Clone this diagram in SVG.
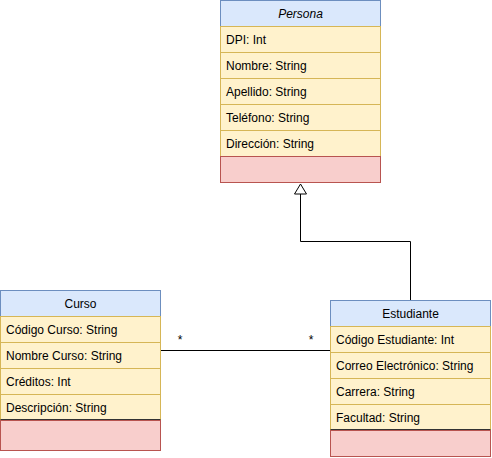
<svg xmlns="http://www.w3.org/2000/svg" width="492" height="458" viewBox="0 0 492 458">
<style>
text{font-family:"Liberation Sans",Arial,sans-serif;font-size:12px;fill:#000}
.h{fill:#dae8fc;stroke:#6c8ebf}
.f{fill:#fff2cc;stroke:#d6b656}
.m{fill:#f8cecc;stroke:#b85450}
.t{text-anchor:middle}
.c{fill:none;stroke:#000;stroke-width:1}
.s{stroke:#333;stroke-width:1}
</style>
<rect width="492" height="458" fill="#fff"/>
<g id="connectors">
<path class="c" d="M410.5 300.5 V241.5 H300.5 V194"/>
<path d="M300.5 184 L294.5 194 L306.5 194 Z" fill="#fff" stroke="#000"/>
<path class="c" d="M160.5 350.5 H330.5"/>
<text x="180" y="344" class="t">*</text>
<text x="311" y="344" class="t">*</text>
</g>
<g id="persona">
<rect class="h" x="220.5" y="0.5" width="160" height="26"/>
<text x="300.5" y="18" class="t" font-style="italic">Persona</text>
<rect class="f" x="220.5" y="26.5" width="160" height="26"/>
<text x="226" y="44">DPI: Int</text>
<rect class="f" x="220.5" y="52.5" width="160" height="26"/>
<text x="226" y="70">Nombre: String</text>
<rect class="f" x="220.5" y="78.5" width="160" height="26"/>
<text x="226" y="96">Apellido: String</text>
<rect class="f" x="220.5" y="104.5" width="160" height="26"/>
<text x="226" y="122">Teléfono: String</text>
<rect class="f" x="220.5" y="130.5" width="160" height="26"/>
<text x="226" y="148">Dirección: String</text>
<rect class="m" x="220.5" y="156.5" width="160" height="26"/>
</g>
<g id="curso">
<rect class="h" x="0.5" y="290.5" width="160" height="26"/>
<text x="80.5" y="308" class="t">Curso</text>
<rect class="f" x="0.5" y="316.5" width="160" height="26"/>
<text x="6" y="334">Código Curso: String</text>
<rect class="f" x="0.5" y="342.5" width="160" height="26"/>
<text x="6" y="360">Nombre Curso: String</text>
<rect class="f" x="0.5" y="368.5" width="160" height="26"/>
<text x="6" y="386">Créditos: Int</text>
<rect class="f" x="0.5" y="394.5" width="160" height="26"/>
<text x="6" y="412">Descripción: String</text>
<rect class="m" x="0.5" y="420.5" width="160" height="30"/>
<line class="s" x1="0.5" y1="419.5" x2="160.5" y2="419.5"/>
</g>
<g id="estudiante">
<rect class="h" x="330.5" y="300.5" width="160" height="26"/>
<text x="410.5" y="318" class="t">Estudiante</text>
<rect class="f" x="330.5" y="326.5" width="160" height="26"/>
<text x="336" y="344">Código Estudiante: Int</text>
<rect class="f" x="330.5" y="352.5" width="160" height="26"/>
<text x="336" y="370">Correo Electrónico: String</text>
<rect class="f" x="330.5" y="378.5" width="160" height="26"/>
<text x="336" y="396">Carrera: String</text>
<rect class="f" x="330.5" y="404.5" width="160" height="26"/>
<text x="336" y="422">Facultad: String</text>
<rect class="m" x="330.5" y="430.5" width="160" height="26"/>
<line class="s" x1="330.5" y1="429.5" x2="490.5" y2="429.5"/>
</g>
</svg>
